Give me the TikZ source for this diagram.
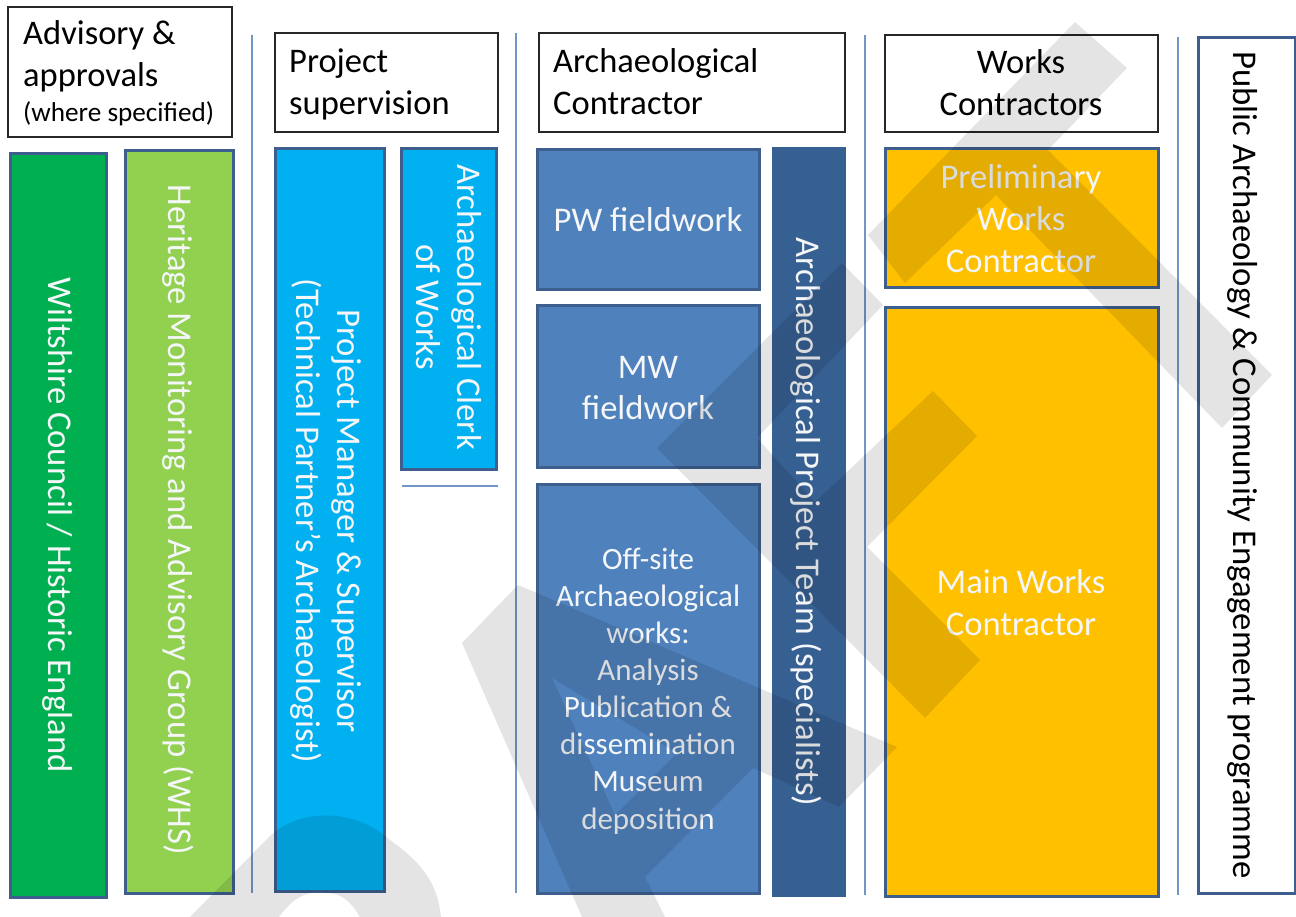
\documentclass[tikz,border=0pt]{standalone}
\usepackage{fontspec}
\setmainfont{Carlito}
\definecolor{edgeblue}{HTML}{3E5F8E}
\definecolor{lineblue}{HTML}{7396C8}
\definecolor{gA}{HTML}{00B050}
\definecolor{gB}{HTML}{92D050}
\definecolor{cy}{HTML}{00B0F0}
\definecolor{bl}{HTML}{4F81BD}
\definecolor{dbl}{HTML}{376092}
\definecolor{yl}{HTML}{FFC000}
\definecolor{offwhite}{HTML}{F4F6F8}
\tikzset{
 head/.style={draw=black!85,line width=1.6pt,fill=white},
 bx/.style={draw=edgeblue,line width=3pt},
 sep/.style={draw=lineblue,line width=1.6pt},
 htxt/.style={font=\fontsize{34.5}{42}\selectfont,text=black,align=left,inner sep=0pt},
 wtxt/.style={font=\fontsize{34.6}{42}\selectfont,text=offwhite,align=center,inner sep=0pt},
 vtxt/.style={font=\fontsize{34.7}{41}\selectfont,text=offwhite,align=center,inner sep=0pt,rotate=-90},
 wm/.style={fill=black,fill opacity=.105,draw=none,even odd rule},
}
\begin{document}
\begin{tikzpicture}[x=1pt,y=-1pt]
\useasboundingbox (0,0) rectangle (1296,917);
\fill[white] (0,0) rectangle (1296,917);
% separators
\draw[sep] (252,35)--(252,893);
\draw[sep] (516,33)--(516,893);
\draw[sep] (865,35)--(865,895);
\draw[sep] (1178,37)--(1178,895);
\draw[sep,line width=1.3pt] (402,486)--(498,486);
% boxes
\draw[head] (8,7) rectangle (232,137);
\draw[head] (275,33) rectangle (498,132);
\draw[head] (539,33) rectangle (845,132);
\draw[head] (885,35) rectangle (1158,132);
\draw[bx,fill=white] (1198,38) rectangle (1295,893);
\draw[bx,fill=gA] (10,154) rectangle (106,897);
\draw[bx,fill=gB] (125,151) rectangle (233,893);
\draw[bx,fill=cy] (275,149) rectangle (384,891);
\draw[bx,fill=cy] (401,149) rectangle (496,469);
\draw[bx,fill=bl] (537,150) rectangle (759,290);
\draw[bx,fill=bl] (537,306) rectangle (759,467);
\draw[bx,fill=bl] (537,484) rectangle (759,893);
\fill[dbl] (772,147) rectangle (846,897);
\draw[bx,fill=yl] (885,149) rectangle (1158,288);
\draw[bx,fill=yl] (885,308) rectangle (1158,896);
% header text
\node[htxt,anchor=base west] (h1) at (23,87) {Advisory \&\\approvals};
\node[htxt,anchor=base west,font=\fontsize{27.2}{28}\selectfont] (h1b) at (23,122) {(where specified)};
\node[htxt,anchor=base west] (h2) at (289,115) {Project\\supervision};
\node[htxt,anchor=base west] (h3) at (553,115) {Archaeological\\Contractor};
\node[htxt,align=center] (h4) at (1021,83) {Works\\Contractors};
% white horizontal text
\node[wtxt] (pw) at (648,220) {PW fieldwork};
\node[wtxt,font=\fontsize{34.6}{41}\selectfont] (mw) at (648,388) {MW\\fieldwork};
\node[wtxt,font=\fontsize{31}{37.1}\selectfont] (off) at (648,691) {Off-site\\Archaeological\\works:\\Analysis\\Publication \&\\dissemination\\Museum\\deposition};
\node[wtxt] (pre) at (1021,219) {Preliminary\\Works\\Contractor};
\node[wtxt] (mainw) at (1021,603) {Main Works\\Contractor};
% vertical text
\node[vtxt] (wc) at (58,525) {Wiltshire Council / Historic England};
\node[vtxt] (hm) at (178,520) {Heritage Monitoring and Advisory Group (WHS)};
\node[vtxt] (pm) at (326,521) {Project Manager \& Supervisor\\(Technical Partner’s Archaeologist)};
\node[vtxt] (cl) at (449,307) {Archaeological Clerk\\of Works};
\node[vtxt] (tm) at (806,522) {Archaeological Project Team (specialists)};
\node[vtxt,text=black] (pa) at (1243,465) {Public Archaeology \& Community Engagement programme};
% watermark
\path[wm]
 % T
 (1075,22)--(1127,68)--(1048,150)--(1272,375)--(1222,428)--(996,195)--(905,283)--(868,235)--cycle
 % F
 (842,263)--(883,305)--(757,438)--(815,502)--(933,391)--(977,436)--(867,547)--(980,660)--(925,718)--(657,448)--cycle
 % A
 (518,585)--(897,747)--(839,807)--(753,768)--(645,877)--(665,917)--(582,917)--(462,643)--cycle
 (552,678)--(677,753)--(615,815)--cycle
 % R
 (190,917)--(270,836) .. controls (300,808) and (355,808) .. (390,840) .. controls (420,862) and (437,880) .. (441,917)--(360,917) .. controls (350,900) and (340,893) .. (327,893) .. controls (310,890) and (295,895) .. (279,917)--cycle;
\end{tikzpicture}
\end{document}
